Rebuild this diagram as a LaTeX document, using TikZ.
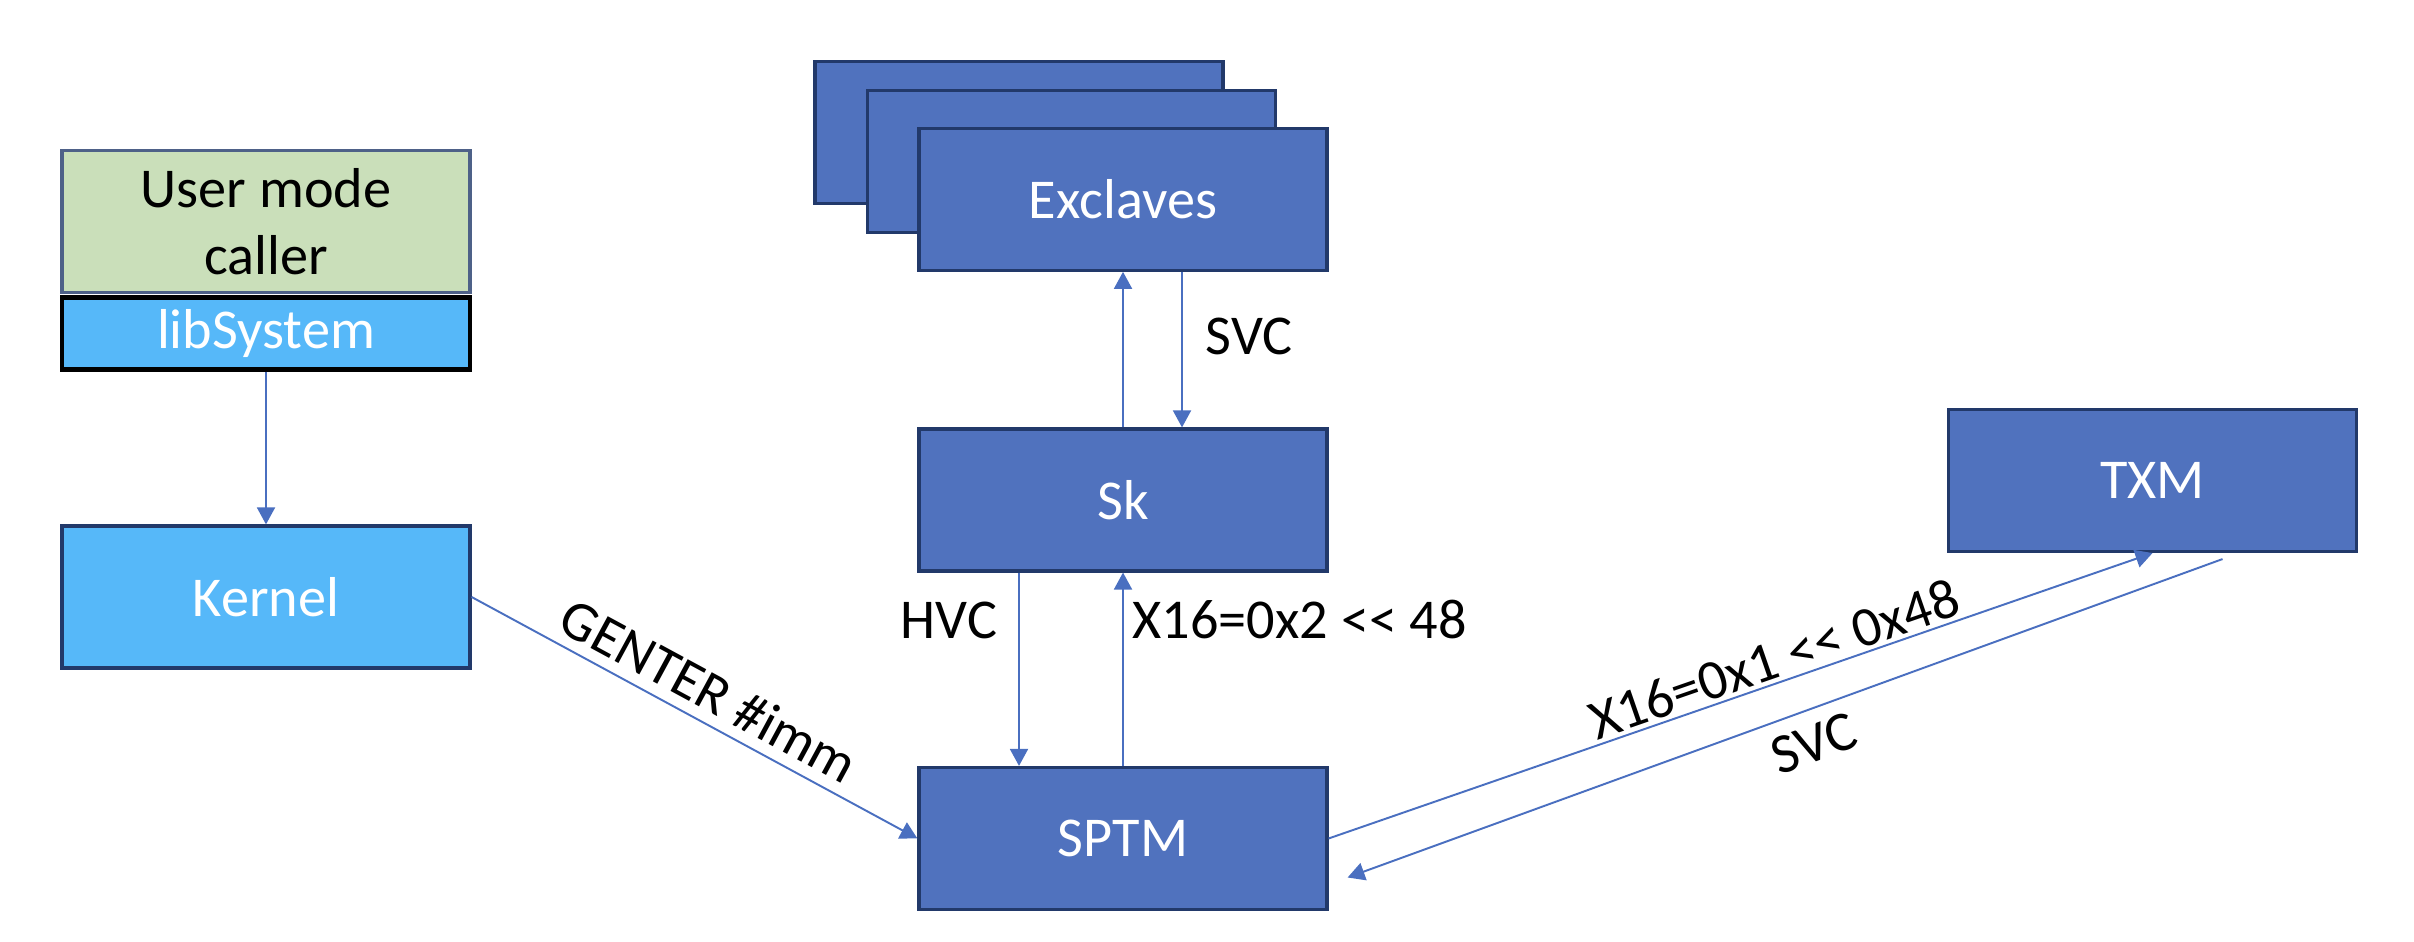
\documentclass[tikz,border=0pt]{standalone}
\usepackage{fontspec}
\setmainfont{Carlito}
\usetikzlibrary{arrows.meta}

\definecolor{boxblue}{HTML}{5072BE}
\definecolor{boxedge}{HTML}{22396A}
\definecolor{kernelblue}{HTML}{56B8F9}
\definecolor{usergreen}{HTML}{CADFBA}
\definecolor{callblue}{HTML}{4A6FC0}

\tikzset{
  module/.style={draw=boxedge, line width=0.9pt, fill=boxblue, text=white,
    minimum width=4.08cm, minimum height=1.42cm, font=\fontsize{16}{19.2}\selectfont},
  call/.style={draw=callblue, line width=0.55pt, -{Triangle[width=1.8mm,length=1.7mm]}, callblue},
  lbl/.style={font=\fontsize{16}{19.2}\selectfont, text=black},
}

\begin{document}
\begin{tikzpicture}
  \useasboundingbox (0,0) rectangle (24.14,9.42);

  % Left column
  \node[module, fill=usergreen, text=black, draw=boxedge!80, align=center] (user) at (2.66,7.205) {User mode\\caller};
  \node[module, fill=kernelblue, draw=black, line width=1.2pt, minimum height=0.72cm] (libsys) at (2.66,6.085) {libSystem};
  \node[module, fill=kernelblue] (kernel) at (2.66,3.45) {Kernel};

  % Exclaves stack
  \node[module] (exback) at (10.19,8.095) {};
  \node[module] (exmid) at (10.715,7.805) {};
  \node[module] (exclaves) at (11.23,7.427) {Exclaves};

  % Centre column and TXM
  \node[module] (sk) at (11.23,4.42) {Sk};
  \node[module] (sptm) at (11.23,1.035) {SPTM};
  \node[module] (txm) at (21.525,4.615) {TXM};

  % Arrows
  \draw[call] (libsys.south) -- (kernel.north);
  \draw[call] (kernel.east) -- (sptm.west)
    node[lbl, pos=0.5, sloped, above, inner sep=3pt] {GENTER \#imm};
  \draw[call] (sk.north) -- (exclaves.south);
  \draw[call] ([xshift=0.59cm]exclaves.south) -- ([xshift=0.59cm]sk.north);
  \draw[call] ([xshift=-1.04cm]sk.south) -- ([xshift=-1.04cm]sptm.north);
  \draw[call] (sptm.north) -- (sk.south);
  \draw[call] (sptm.east) -- (txm.south)
    node[lbl, pos=0.55, sloped, above, inner sep=1pt] {X16=0x1 <{}< 0x48};
  \draw[call] ([shift={(0.7,-0.06)}]txm.south) -- ([shift={(0.19,-0.39)}]sptm.east)
    node[lbl, pos=0.48, sloped, below, inner sep=4pt] {SVC};

  % Labels
  \node[lbl, anchor=west, inner sep=0pt] (svctop) at (12.05,6.06) {SVC};
  \node[lbl, anchor=east, inner sep=0pt] (hvc) at (9.98,3.22) {HVC};
  \node[lbl, anchor=west, inner sep=0pt] (skret) at (11.32,3.22) {X16=0x2 <{}< 48};
\end{tikzpicture}
\end{document}
